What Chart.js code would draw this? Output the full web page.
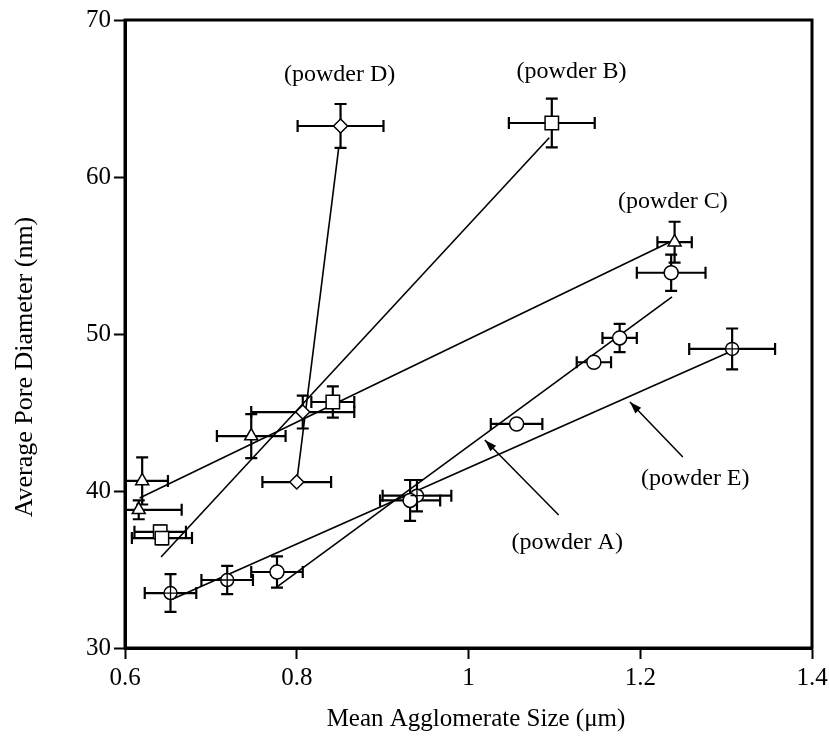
<!DOCTYPE html>
<html>
<head>
<meta charset="utf-8">
<script src="https://cdn.jsdelivr.net/npm/chart.js@4.4.0/dist/chart.umd.min.js"></script>
<style>
  html, body { margin: 0; padding: 0; background: #fff; }
  #wrap { width: 829px; height: 736px; }
</style>
</head>
<body>
<div id="wrap"><canvas id="chart" width="829" height="736"></canvas></div>
<script>
const xTickLabels = ['0.6', '0.8', '1', '1.2', '1.4'];
const yTickLabels = ['30', '40', '50', '60', '70'];

const powderAX = [0.777, 0.932, 1.056, 1.146, 1.176, 1.236];
const powderAY = [34.84, 39.4, 44.27, 48.2, 49.75, 53.9];
const powderAXErr = [0.03, 0.035, 0.03, 0.02, 0.02, 0.04];
const powderAYErr = [1.0, 1.3, 0, 0, 0.9, 1.15];
const fitAX = [0.777, 1.237];
const fitAY = [33.9, 52.36];

const powderBX = [0.641, 0.643, 0.842, 1.097];
const powderBY = [37.4, 37.0, 45.67, 63.44];
const powderBXErr = [0.03, 0.035, 0.025, 0.05];
const powderBYErr = [0.4, 0.4, 1.0, 1.55];
const fitBX = [0.642, 1.094];
const fitBY = [35.8, 62.5];

const powderCX = [0.616, 0.620, 0.747, 1.240];
const powderCY = [38.8, 40.64, 43.5, 55.85];
const powderCXErr = [0.05, 0.03, 0.04, 0.02];
const powderCYErr = [0.6, 1.5, 1.4, 1.3];
const fitCX = [0.617, 1.24];
const fitCY = [39.55, 56.0];

const powderDX = [0.800, 0.807, 0.851];
const powderDY = [40.57, 45.03, 63.25];
const powderDXErr = [0.04, 0.06, 0.05];
const powderDYErr = [0, 1.05, 1.4];
const fitDX = [0.800, 0.849];
const fitDY = [40.6, 61.9];

const powderEX = [0.653, 0.719, 0.94, 1.307];
const powderEY = [33.5, 34.33, 39.7, 49.05];
const powderEXErr = [0.03, 0.03, 0.04, 0.05];
const powderEYErr = [1.2, 0.9, 1.0, 1.3];
const fitEX = [0.655, 1.302];
const fitEY = [33.1, 48.8];

const labels = [
    { text: '(powder D)', x: 0.850, y: 66.5 },
    { text: '(powder B)', x: 1.120, y: 66.7 },
    { text: '(powder C)', x: 1.238, y: 58.4 },
    { text: '(powder E)', x: 1.264, y: 40.8 },
    { text: '(powder A)', x: 1.115, y: 36.7 },
];

const arrows = [
    { from: [1.2496, 42.17], to: [1.188, 45.67] },
    { from: [1.105, 38.47], to: [1.019, 43.25] },
];

const FONT = "'Liberation Serif', 'DejaVu Serif', serif";

function toPoints(xs, ys) {
    return xs.map((x, i) => ({ x: x, y: ys[i] }));
}

function markerSet(name, xs, ys, xErr, yErr, style, radius, plus) {
    return {
        label: name,
        data: toPoints(xs, ys),
        errX: xErr,
        errY: yErr,
        plusMark: plus || false,
        showLine: false,
        pointStyle: style,
        pointRadius: radius,
        pointHoverRadius: radius,
        pointBackgroundColor: '#fff',
        pointBorderColor: '#000',
        pointBorderWidth: 1.5,
        order: 1,
    };
}

function fitSet(name, xs, ys) {
    return {
        label: name,
        data: toPoints(xs, ys),
        showLine: true,
        borderColor: '#000',
        borderWidth: 1.6,
        pointRadius: 0,
        fill: false,
        order: 2,
    };
}

const errorBarPlugin = {
    id: 'errorBars',
    beforeDatasetsDraw(chart) {
        const { ctx, chartArea } = chart;
        const xs = chart.scales.x;
        const ys = chart.scales.y;
        const cap = 6;
        ctx.save();
        ctx.beginPath();
        ctx.rect(chartArea.left, chartArea.top, chartArea.right - chartArea.left, chartArea.bottom - chartArea.top);
        ctx.clip();
        ctx.strokeStyle = '#000';
        ctx.lineWidth = 2.2;
        chart.data.datasets.forEach(ds => {
            if (!ds.errX) return;
            ds.data.forEach((p, i) => {
                const px = xs.getPixelForValue(p.x);
                const py = ys.getPixelForValue(p.y);
                const ex = ds.errX[i];
                const ey = ds.errY[i];
                ctx.beginPath();
                if (ex > 0) {
                    const x1 = xs.getPixelForValue(p.x - ex);
                    const x2 = xs.getPixelForValue(p.x + ex);
                    ctx.moveTo(x1, py); ctx.lineTo(x2, py);
                    ctx.moveTo(x1, py - cap); ctx.lineTo(x1, py + cap);
                    ctx.moveTo(x2, py - cap); ctx.lineTo(x2, py + cap);
                }
                if (ey > 0) {
                    const y1 = ys.getPixelForValue(p.y - ey);
                    const y2 = ys.getPixelForValue(p.y + ey);
                    ctx.moveTo(px, y1); ctx.lineTo(px, y2);
                    ctx.moveTo(px - cap, y1); ctx.lineTo(px + cap, y1);
                    ctx.moveTo(px - cap, y2); ctx.lineTo(px + cap, y2);
                }
                ctx.stroke();
            });
        });
        ctx.restore();
    },
    afterDatasetsDraw(chart) {
        const { ctx } = chart;
        ctx.save();
        ctx.strokeStyle = '#000';
        ctx.lineWidth = 1.3;
        chart.data.datasets.forEach((ds, di) => {
            if (!ds.plusMark) return;
            const r = ds.pointRadius;
            chart.getDatasetMeta(di).data.forEach(el => {
                ctx.beginPath();
                ctx.moveTo(el.x - r, el.y);
                ctx.lineTo(el.x + r, el.y);
                ctx.moveTo(el.x, el.y - r);
                ctx.lineTo(el.x, el.y + r);
                ctx.stroke();
            });
        });
        ctx.restore();
    },
};

const decorPlugin = {
    id: 'decor',
    afterDraw(chart) {
        const { ctx, chartArea } = chart;
        const xs = chart.scales.x;
        const ys = chart.scales.y;
        ctx.save();
        ctx.strokeStyle = '#000';
        ctx.lineWidth = 3;
        ctx.strokeRect(chartArea.left, chartArea.top, chartArea.right - chartArea.left, chartArea.bottom - chartArea.top);

        ctx.fillStyle = '#000';
        ctx.font = '24px ' + FONT;
        ctx.textAlign = 'center';
        ctx.textBaseline = 'middle';
        labels.forEach(l => {
            ctx.fillText(l.text, xs.getPixelForValue(l.x), ys.getPixelForValue(l.y));
        });

        ctx.lineWidth = 1.5;
        arrows.forEach(a => {
            const x1 = xs.getPixelForValue(a.from[0]);
            const y1 = ys.getPixelForValue(a.from[1]);
            const x2 = xs.getPixelForValue(a.to[0]);
            const y2 = ys.getPixelForValue(a.to[1]);
            const ang = Math.atan2(y2 - y1, x2 - x1);
            ctx.beginPath();
            ctx.moveTo(x1, y1);
            ctx.lineTo(x2, y2);
            ctx.stroke();
            ctx.beginPath();
            ctx.moveTo(x2, y2);
            ctx.lineTo(x2 - 12 * Math.cos(ang) + 4 * Math.sin(ang), y2 - 12 * Math.sin(ang) - 4 * Math.cos(ang));
            ctx.lineTo(x2 - 12 * Math.cos(ang) - 4 * Math.sin(ang), y2 - 12 * Math.sin(ang) + 4 * Math.cos(ang));
            ctx.closePath();
            ctx.fill();
        });

        ctx.font = '25px ' + FONT;
        ctx.fillText('Mean Agglomerate Size (\u03bcm)', 476, 719);
        ctx.font = '26px ' + FONT;
        ctx.translate(25, 367);
        ctx.rotate(-Math.PI / 2);
        ctx.fillText('Average Pore Diameter (nm)', 0, 0);
        ctx.restore();
    },
};

function axisOptions(min, max, step, tickLabels, pad) {
    return {
        type: 'linear',
        min: min,
        max: max,
        ticks: {
            stepSize: step,
            color: '#000',
            font: { family: FONT, size: 25 },
            padding: pad,
            callback: (v) => {
                const idx = Math.round((v - min) / step);
                return tickLabels[idx];
            },
        },
        grid: {
            drawOnChartArea: false,
            drawTicks: true,
            tickLength: 11,
            tickWidth: 2,
            color: '#000',
        },
        border: { display: true, color: '#000', width: 3 },
    };
}

const xAxis = axisOptions(0.6, 1.4, 0.2, xTickLabels, 4);
xAxis.afterFit = (scale) => {
    scale.height = 88;
    scale.paddingLeft = 0;
    scale.paddingRight = 0;
};
const yAxis = axisOptions(30, 70, 10, yTickLabels, 3);
yAxis.afterFit = (scale) => {
    scale.width = 125;
    scale.paddingTop = 0;
    scale.paddingBottom = 0;
};

new Chart(document.getElementById('chart').getContext('2d'), {
    type: 'scatter',
    data: {
        datasets: [
            markerSet('powder A', powderAX, powderAY, powderAXErr, powderAYErr, 'circle', 7),
            markerSet('powder B', powderBX, powderBY, powderBXErr, powderBYErr, 'rect', 9.5),
            markerSet('powder C', powderCX, powderCY, powderCXErr, powderCYErr, 'triangle', 7.5),
            markerSet('powder D', powderDX, powderDY, powderDXErr, powderDYErr, 'rectRot', 7),
            markerSet('powder E', powderEX, powderEY, powderEXErr, powderEYErr, 'circle', 6.5, true),
            fitSet('fit A', fitAX, fitAY),
            fitSet('fit B', fitBX, fitBY),
            fitSet('fit C', fitCX, fitCY),
            fitSet('fit D', fitDX, fitDY),
            fitSet('fit E', fitEX, fitEY),
        ],
    },
    options: {
        responsive: false,
        animation: false,
        devicePixelRatio: 1,
        layout: { padding: { left: 0, top: 20, right: 17, bottom: 0 } },
        scales: { x: xAxis, y: yAxis },
        plugins: {
            legend: { display: false },
            tooltip: { enabled: false },
        },
    },
    plugins: [errorBarPlugin, decorPlugin],
});
</script>
</body>
</html>
